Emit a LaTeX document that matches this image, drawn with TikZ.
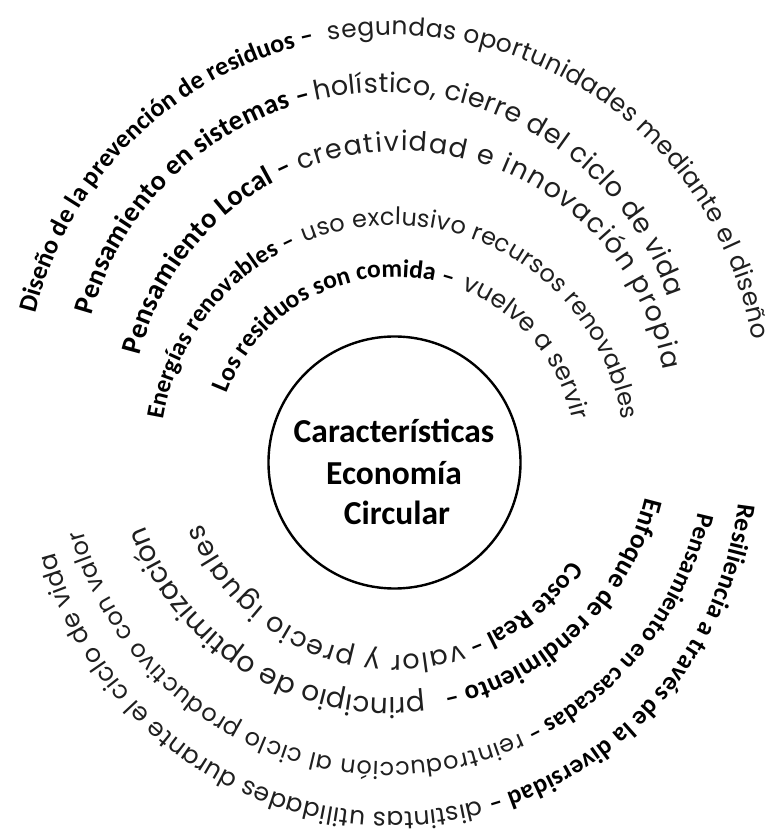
\documentclass[tikz,border=0pt]{standalone}
\usepackage{fontspec}
\setmainfont{Carlito}
\newfontfamily\calibfont{Carlito}
\newfontfamily\gothicfont{Poppins}
\usetikzlibrary{decorations.text}
\newcommand\BF[1]{\calibfont\bfseries\fontsize{#1}{#1}\selectfont}
\newcommand\RG[1]{\gothicfont\color{black!88}\fontsize{#1}{#1}\selectfont}
\begin{document}
\begin{tikzpicture}[x=1pt,y=1pt,
  curved/.style={decorate, decoration={text along path, text align={fit to path}}},
  hubtext/.style={anchor=base, font=\BF{33.5}}]
\useasboundingbox (0,0) rectangle (779,830);
% hub
\node[circle, draw, line width=2.4pt, minimum size=252pt, inner sep=0pt] (hub) at (394.5,367.5) {};
\node[hubtext] (t1) at (394,387) {Características};
\node[hubtext] (t2) at (394,345) {Economía};
\node[hubtext] (t3) at (397,305) {Circular};
% centres of the arcs
\coordinate (c1) at (395.5,372.6);
\coordinate (c2) at (392.5,372.4);
\coordinate (c3) at (399.9,411.5);
\coordinate (c4) at (382.8,435.9);
\coordinate (c5) at (391.0,428.5);
\coordinate (d1) at (396.0,383.0);
\coordinate (d2) at (390.5,393.6);
\coordinate (d3) at (388.2,384.8);
\coordinate (d4) at (391.9,366.3);
% upper arcs
\path[curved, decoration={text={|\BF{25.5}|Los residuos son comida –}}]
  ([shift={(159.1:180.4)}]c1) arc[start angle=159.1, end angle=71.8, radius=180.4];
\path[curved, decoration={text={|\RG{25}|vuelve a servir}}]
  ([shift={(68.6:180.4)}]c1) arc[start angle=68.6, end angle=12.0, radius=180.4];
\path[curved, decoration={text={|\BF{25}|Energías renovables –}}]
  ([shift={(170.7:232.6)}]c2) arc[start angle=170.7, end angle=114.4, radius=232.6];
\path[curved, decoration={text={|\RG{24}|uso exclusivo recursos renovables}}]
  ([shift={(112.2:232.6)}]c2) arc[start angle=112.2, end angle=9.3, radius=232.6];
\path[curved, decoration={text={|\BF{28.5}|Pensamiento Local –}}]
  ([shift={(166.3:267.5)}]c3) arc[start angle=166.3, end angle=113.4, radius=267.5];
\path[curved, decoration={text={|\RG{27}|creatividad e innovación propia}}]
  ([shift={(111.9:267.5)}]c3) arc[start angle=111.9, end angle=10.4, radius=267.5];
\path[curved, decoration={text={|\BF{28}|Pensamiento en sistemas –}}]
  ([shift={(164.8:301.3)}]c4) arc[start angle=164.8, end angle=103.8, radius=301.3];
\path[curved, decoration={text={|\RG{27}|holístico, cierre del ciclo de vida}}]
  ([shift={(103.0:301.3)}]c4) arc[start angle=103.0, end angle=18.8, radius=301.3];
\path[curved, decoration={text={|\BF{26}|Diseño de la prevención de residuos –}}]
  ([shift={(166.1:366.5)}]c5) arc[start angle=166.1, end angle=102.1, radius=366.5];
\path[curved, decoration={text={|\RG{25}|segundas oportunidades mediante el diseño}}]
  ([shift={(99.75:366.5)}]c5) arc[start angle=99.75, end angle=9.67, radius=366.5];
% lower arcs
\path[curved, decoration={text={|\BF{26}|Coste Real –}}]
  ([shift={(-33.1:208)}]d1) arc[start angle=-33.1, end angle=-69.7, radius=208];
\path[curved, decoration={text={|\RG{27}|valor y precio iguales}}]
  ([shift={(-71.3:208)}]d1) arc[start angle=-71.3, end angle=-158.5, radius=208];
\path[curved, decoration={text={|\BF{27}|Enfoque de rendimiento –}}]
  ([shift={(-13.4:261.6)}]d2) arc[start angle=-13.4, end angle=-78.2, radius=261.6];
\path[curved, decoration={text={|\RG{28}|principio de optimización}}]
  ([shift={(-82.5:261.6)}]d2) arc[start angle=-82.5, end angle=-159.75, radius=261.6];
\path[curved, decoration={text={|\BF{25}|Pensamiento en cascadas –}}]
  ([shift={(-12.2:316.8)}]d3) arc[start angle=-12.2, end angle=-64.1, radius=316.8];
\path[curved, decoration={text={|\RG{24}|reintroducción al ciclo productivo con valor}}]
  ([shift={(-65.3:316.8)}]d3) arc[start angle=-65.3, end angle=-164.5, radius=316.8];
\path[curved, decoration={text={|\BF{26}|Resiliencia a través de la diversidad –}}]
  ([shift={(-6.5:348.3)}]d4) arc[start angle=-6.5, end angle=-74.0, radius=348.3];
\path[curved, decoration={text={|\RG{25}|distintas utilidades durante el ciclo de vida}}]
  ([shift={(-75.2:348.3)}]d4) arc[start angle=-75.2, end angle=-165.3, radius=348.3];
\end{tikzpicture}
\end{document}
